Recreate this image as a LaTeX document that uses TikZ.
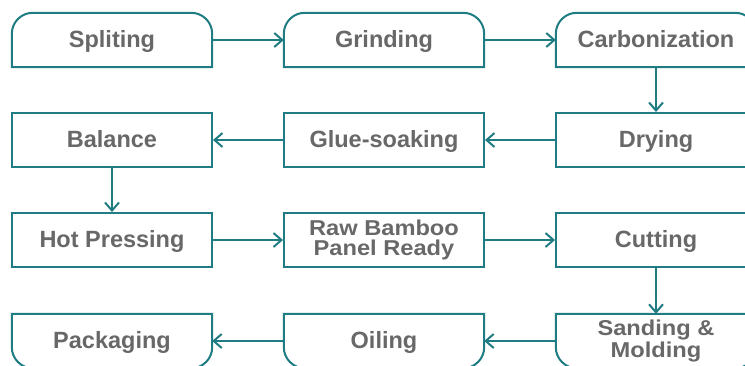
\documentclass[tikz,border=0pt]{standalone}
\usepackage{fontspec}
\setmainfont{Liberation Sans}
\usetikzlibrary{arrows.meta}
\definecolor{teal}{RGB}{32,124,131}
\definecolor{txtgray}{RGB}{104,104,104}
\tikzset{
  stage/.style={minimum width=200pt,minimum height=54pt,inner sep=0pt,align=center,
    text=txtgray,font=\fontsize{23.5}{24}\selectfont\bfseries,text height=16pt,text depth=2pt},
  stagebox/.style={stage,draw=teal,line width=2pt},
  twoline/.style={text height=,text depth=,
    font=\addfontfeature{FakeStretch=1.1}\fontsize{21.5}{19.5}\selectfont\bfseries},
  outline/.style={draw=teal,line width=2pt},
  flow/.style={draw=teal,line width=2pt,-{Straight Barb[length=8pt,width=14pt,line width=2pt]}}
}
\begin{document}
\begin{tikzpicture}[x=1pt,y=-1pt]
	\useasboundingbox (0,0) rectangle (745,365);
	\clip (0,0) rectangle (745,365);
	\fill[white] (0,0) rectangle (745,365);
	% first row
	\node[stage] (spl) at (112,40) {Spliting};
	\node[stage] (grd) at (384,40) {Grinding};
	\node[stage] (crb) at (656,40) {Carbonization};
	% second row
	\node[stagebox] (bal) at (112,140) {Balance};
	\node[stagebox] (glu) at (384,140) {Glue-soaking};
	\node[stagebox] (dry) at (656,140) {Drying};
	% third row
	\node[stagebox] (hot) at (112,240) {Hot Pressing};
	\node[stagebox,twoline] (raw) at (384,240) {Raw Bamboo\\Panel Ready};
	\node[stagebox] (cut) at (656,240) {Cutting};
	% last row
	\node[stage] (pck) at (112,341) {Packaging};
	\node[stage] (oil) at (384,341) {Oiling};
	\node[stage,twoline] (snd) at (656,341) {Sanding \&\\Molding};
	% rounded tops and bottoms
	\foreach \n in {spl,grd,crb}
		\draw[outline] (\n.south west) -- ([yshift=-21pt]\n.north west)
			arc[start angle=180,end angle=90,radius=21pt] -- ([xshift=-21pt]\n.north east)
			arc[start angle=90,end angle=0,radius=21pt] -- (\n.south east) -- cycle;
	\foreach \n in {pck,oil,snd}
		\draw[outline] (\n.north west) -- ([yshift=21pt]\n.south west)
			arc[start angle=180,end angle=270,radius=21pt] -- ([xshift=-21pt]\n.south east)
			arc[start angle=270,end angle=360,radius=21pt] -- (\n.north east) -- cycle;
	% connectors
	\draw[flow] (spl) -- (grd);
	\draw[flow] (grd) -- (crb);
	\draw[flow] (crb) -- (dry);
	\draw[flow] (dry) -- (glu);
	\draw[flow] (glu) -- (bal);
	\draw[flow] (bal) -- (hot);
	\draw[flow] (hot) -- (raw);
	\draw[flow] (raw) -- (cut);
	\draw[flow] (cut) -- (snd);
	\draw[flow] (snd) -- (oil);
	\draw[flow] (oil) -- (pck);
\end{tikzpicture}
\end{document}
